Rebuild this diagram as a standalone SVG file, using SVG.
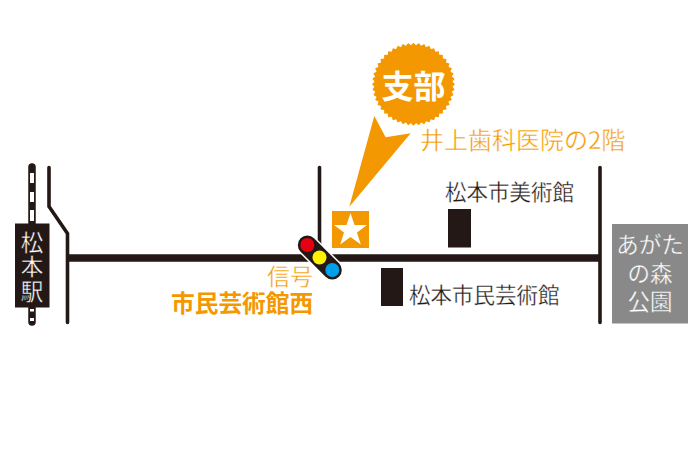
<svg xmlns="http://www.w3.org/2000/svg" width="700" height="467" viewBox="0 0 700 467">
<style>
text{font-family:"Noto Sans CJK JP","Liberation Sans",sans-serif}
.road{fill:none;stroke:#231815;stroke-width:3.6;stroke-linecap:round;stroke-linejoin:miter}
.bld{fill:#231815}
.or{fill:#f39800}
.lbl{fill:#231815;font-size:21.5px;stroke:#fff;stroke-width:.3px}
.ol{fill:#f39800;font-size:24px;stroke:#fff;stroke-width:.45px}
.wh{fill:#fff;text-anchor:middle}
.r{fill:#f39800;width:58.7px;height:58.7px;x:-29.35px;y:-29.35px}
</style>
<rect width="700" height="467" fill="#fff"/>
<g id="connectors">
<path class="road" d="M49 167.500V206.500L67.500 233.500V322.500"/>
<path class="road" d="M319.500 167.500V245"/>
<path class="road" d="M600 167.500V322.500"/>
<path d="M68 258H600" fill="none" stroke="#231815" stroke-width="7.500"/>
</g>
<g id="rail">
<line x1="32" y1="167" x2="32" y2="322" stroke="#231815" stroke-width="7.500" stroke-linecap="round"/>
<path d="M32 173V183M32 192V202M32 210V221M32 309V311.500M32 318V321" stroke="#fff" stroke-width="4" fill="none"/>
</g>
<g id="station">
<rect x="15" y="223.500" width="34.500" height="84" fill="#231815"/>
<text class="wh" font-size="22.500" stroke="#231815" stroke-width=".35"><tspan x="32" y="250.500">松</tspan><tspan x="32" y="274.500">本</tspan><tspan x="32" y="300">駅</tspan></text>
</g>
<g id="pointer">
<polygon class="or" points="349.300,206.700 374.300,116 385.700,137.300 410.700,133.300"/>
</g>
<g id="badge">
<g transform="translate(413.500 84.200)">
<rect class="r"/><rect class="r" transform="rotate(7.500)"/><rect class="r" transform="rotate(15)"/><rect class="r" transform="rotate(22.500)"/><rect class="r" transform="rotate(30)"/><rect class="r" transform="rotate(37.500)"/><rect class="r" transform="rotate(45)"/><rect class="r" transform="rotate(52.500)"/><rect class="r" transform="rotate(60)"/><rect class="r" transform="rotate(67.500)"/><rect class="r" transform="rotate(75)"/><rect class="r" transform="rotate(82.500)"/>
</g>
<text class="wh" x="413.500" y="98" font-size="32" font-weight="700">支部</text>
</g>
<text class="ol" x="420" y="148.500">井上歯科医院の2階</text>
<g id="star-marker">
<rect class="or" x="332" y="211" width="37" height="37"/>
<polygon fill="#fff" points="350.500,213 354.500,225 367,225 357,232.500 360.800,244.500 350.500,237 340.200,244.500 344,232.500 334,225 346.500,225"/>
</g>
<g id="museum">
<rect class="bld" x="448" y="209" width="23" height="38.500"/>
<text class="lbl" x="445" y="199.500">松本市美術館</text>
</g>
<g id="hall">
<rect class="bld" x="381" y="268" width="22" height="38"/>
<text class="lbl" x="409" y="303">松本市民芸術館</text>
</g>
<g id="signal">
<line x1="307.300" y1="245" x2="332.300" y2="270" stroke="#fff" stroke-width="22" stroke-linecap="round"/>
<line x1="307.300" y1="245" x2="332.300" y2="270" stroke="#231815" stroke-width="19" stroke-linecap="round"/>
<circle cx="307.300" cy="245" r="7" fill="#e60012"/>
<circle cx="319.500" cy="257.500" r="7" fill="#fff100"/>
<circle cx="332.300" cy="270" r="7" fill="#00a0e9"/>
</g>
<g id="signal-label">
<text class="or"><tspan x="267" y="284.500" font-size="23" stroke="#fff" stroke-width=".45">信号</tspan><tspan x="171" y="311.500" font-size="23.700" font-weight="700">市民芸術館西</tspan></text>
</g>
<g id="park">
<rect x="612" y="224" width="76" height="99.500" fill="#898989"/>
<text class="wh" font-size="22.500" stroke="#898989" stroke-width=".35"><tspan x="650" y="253">あがた</tspan><tspan x="650" y="282">の森</tspan><tspan x="650" y="310">公園</tspan></text>
</g>
</svg>
